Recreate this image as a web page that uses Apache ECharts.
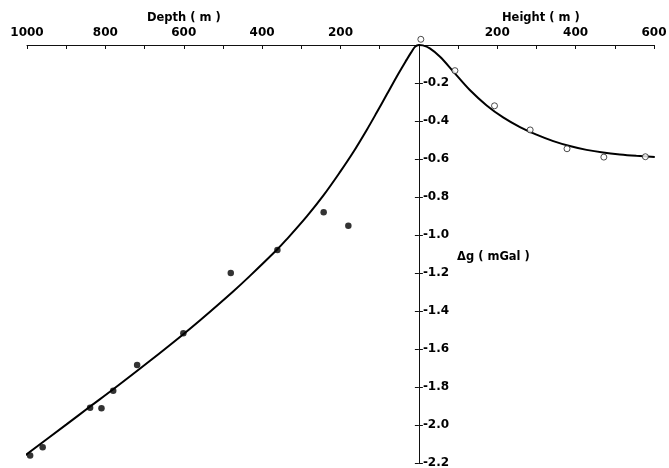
<!DOCTYPE html>
<html>
<head>
<meta charset="utf-8">
<script src="https://cdn.jsdelivr.net/npm/echarts@6/dist/echarts.min.js"></script>
<style>
html, body { margin: 0; padding: 0; background: #fff; }
#chart { width: 669px; height: 468px; }
</style>
</head>
<body>
<div id="chart"></div>
<script>
// measured points (depth below / height above reference level)
var depthM = [992, 960, 839, 810, 780, 719, 601, 480, 361, 243, 180];
var depthDg = [-2.16, -2.117, -1.909, -1.912, -1.82, -1.684, -1.517, -1.20, -1.079, -0.88, -0.951];
var heightM = [5, 92, 193, 284, 378, 472, 578];
var heightDg = [0.03, -0.135, -0.32, -0.447, -0.546, -0.59, -0.588];

// fitted curve, depth given as negative x
var curveX = [-1025, -900, -839, -780, -686, -601, -559, -474, -431, -363, -337, -286, -244, -201, -168, -133, -108, -82, -57, -31, -20, -10, 0, 10, 28, 54, 88, 130, 173, 215, 258, 300, 343, 385, 428, 470, 513, 555, 602];
var curveDg = [-2.192, -1.998, -1.903, -1.812, -1.662, -1.522, -1.45, -1.297, -1.215, -1.079, -1.022, -0.902, -0.793, -0.668, -0.566, -0.447, -0.357, -0.261, -0.168, -0.077, -0.04, -0.01, 0, -0.002, -0.018, -0.062, -0.14, -0.237, -0.318, -0.381, -0.432, -0.472, -0.506, -0.532, -0.552, -0.566, -0.576, -0.583, -0.589];

var xLabelValues = [-1000, -800, -600, -400, -200, 200, 400, 600];

var FONT = "DejaVu Sans";
var W = 669, GL = 27, GR = 15;
var XMIN = -1000, XMAX = 600;
// pixel x of the zero line, where the Δg axis sits
var zeroX = GL + (W - GL - GR) * (0 - XMIN) / (XMAX - XMIN);

var myChart = echarts.init(document.getElementById("chart"));

var depthData = depthM.map(function (d, i) { return [-d, depthDg[i]]; });
var heightData = heightM.map(function (h, i) { return [h, heightDg[i]]; });
var curveData = curveX.map(function (x, i) { return [x, curveDg[i]]; });

var yCommon = {
    type: "value",
    min: -2.2,
    max: 0,
    interval: 0.2,
    splitLine: { show: false },
    axisLine: { show: true, onZero: false, lineStyle: { color: "#111", width: 1 } },
    axisTick: { show: true, length: 4, lineStyle: { color: "#111", width: 1 } }
};

myChart.setOption({
    animation: false,
    backgroundColor: "#fff",
    grid: { left: GL, right: GR, top: 45, bottom: 5, containLabel: false, outerBoundsMode: "none" },
    xAxis: {
        type: "value",
        position: "top",
        min: XMIN,
        max: XMAX,
        interval: 100,
        splitLine: { show: false },
        axisLine: { onZero: false, lineStyle: { color: "#111", width: 1 } },
        axisTick: { inside: true, length: 4, lineStyle: { color: "#111", width: 1 } },
        axisLabel: {
            margin: 6,
            color: "#000",
            fontFamily: FONT,
            fontWeight: "bold",
            fontSize: 12,
            hideOverlap: false,
            formatter: function (v) {
                return xLabelValues.indexOf(v) >= 0 ? String(Math.abs(v)) : "";
            }
        }
    },
    yAxis: [
        Object.assign({}, yCommon, {
            position: "right",
            offset: -(W - GR - zeroX),
            axisLabel: {
                margin: 4,
                color: "#000",
                fontFamily: FONT,
                fontWeight: "bold",
                fontSize: 12,
                formatter: function (v) {
                    return Math.abs(v) < 1e-9 ? "" : v.toFixed(1);
                }
            }
        }),
        Object.assign({}, yCommon, {
            position: "left",
            offset: -(zeroX - GL),
            axisLabel: { show: false }
        })
    ],
    graphic: [
        { type: "text", left: 147, top: 12, style: { text: "Depth ( m )", font: "bold 11.5px " + FONT, fill: "#000" } },
        { type: "text", left: 502, top: 12, style: { text: "Height ( m )", font: "bold 11.5px " + FONT, fill: "#000" } },
        { type: "text", left: 457, top: 251, style: { text: "Δg ( mGal )", font: "bold 11.5px " + FONT, fill: "#000" } }
    ],
    series: [
        {
            name: "curve",
            type: "line",
            data: curveData,
            smooth: 0.35,
            showSymbol: false,
            clip: false,
            lineStyle: { color: "#000", width: 2 },
            z: 2
        },
        {
            name: "depth",
            type: "scatter",
            data: depthData,
            symbol: "circle",
            symbolSize: 6.5,
            clip: false,
            itemStyle: { color: "#000" },
            z: 3
        },
        {
            name: "height",
            type: "scatter",
            data: heightData,
            symbol: "circle",
            symbolSize: 6,
            clip: false,
            itemStyle: { color: "#fff", borderColor: "#222", borderWidth: 1 },
            z: 3
        }
    ]
});
</script>
</body>
</html>
